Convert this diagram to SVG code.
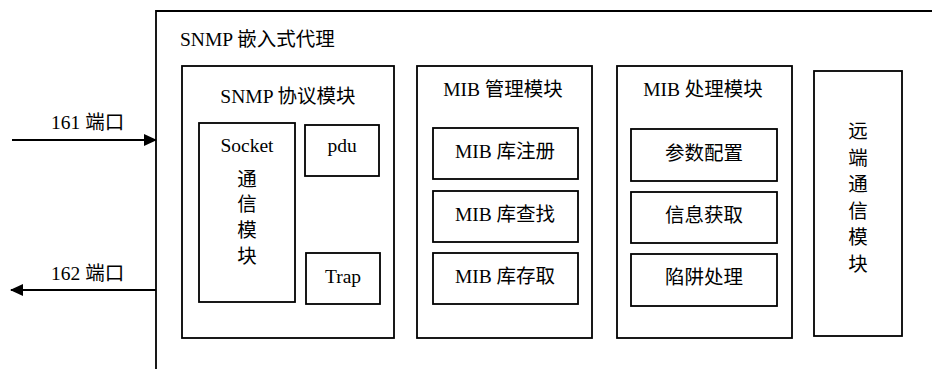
<svg xmlns="http://www.w3.org/2000/svg" width="932" height="369" viewBox="0 0 932 369">
<defs>
<style>
.box{fill:#fff;stroke:#000;stroke-width:1.8}
.ln{fill:none;stroke:#000;stroke-width:1.8}
text{font-family:"Liberation Serif","Noto Sans CJK SC",serif;fill:#000;font-size:19.5px}
.m{text-anchor:middle}
</style>
<marker id="ah" markerWidth="13" markerHeight="12" refX="12" refY="6" orient="auto" markerUnits="userSpaceOnUse">
<path d="M0,0 L13,6 L0,12 Z" fill="#000"/>
</marker>
</defs>
<rect width="932" height="369" fill="#fff"/>
<g id="agent">
<path class="ln" d="M156,369 L156,11 L932,11"/>
<text x="180" y="46">SNMP 嵌入式代理</text>
</g>
<g id="snmp-module">
<rect class="box" x="182" y="66" width="212" height="272"/>
<text class="m" x="288" y="103">SNMP 协议模块</text>
</g>
<g id="socket">
<rect class="box" x="199" y="123" width="96" height="179"/>
<text class="m" x="247" y="152">Socket</text>
<text class="m" x="247" y="186">通</text>
<text class="m" x="247" y="211">信</text>
<text class="m" x="247" y="237">模</text>
<text class="m" x="247" y="263">块</text>
</g>
<g id="pdu">
<rect class="box" x="305" y="125" width="74" height="51"/>
<text class="m" x="342" y="152">pdu</text>
</g>
<g id="trap">
<rect class="box" x="306" y="253" width="74" height="51"/>
<text class="m" x="343" y="283">Trap</text>
</g>
<g id="mib-mgmt">
<rect class="box" x="417" y="66" width="175" height="272"/>
<text class="m" x="503" y="96">MIB 管理模块</text>
</g>
<g id="mib-reg">
<rect class="box" x="433" y="128" width="145" height="51"/>
<text class="m" x="505" y="158">MIB 库注册</text>
</g>
<g id="mib-find">
<rect class="box" x="433" y="191" width="145" height="51"/>
<text class="m" x="505" y="221">MIB 库查找</text>
</g>
<g id="mib-access">
<rect class="box" x="433" y="253" width="145" height="51"/>
<text class="m" x="505" y="283">MIB 库存取</text>
</g>
<g id="mib-proc">
<rect class="box" x="617" y="66" width="175" height="272"/>
<text class="m" x="703" y="96">MIB 处理模块</text>
</g>
<g id="param">
<rect class="box" x="631" y="129" width="146" height="52"/>
<text class="m" x="704" y="160">参数配置</text>
</g>
<g id="info">
<rect class="box" x="631" y="192" width="146" height="51"/>
<text class="m" x="704" y="222">信息获取</text>
</g>
<g id="trapproc">
<rect class="box" x="631" y="254" width="146" height="52"/>
<text class="m" x="704" y="284">陷阱处理</text>
</g>
<g id="remote">
<rect class="box" x="814" y="71" width="88" height="265"/>
<text class="m" x="858" y="138">远</text>
<text class="m" x="858" y="165">端</text>
<text class="m" x="858" y="191">通</text>
<text class="m" x="858" y="218">信</text>
<text class="m" x="858" y="244">模</text>
<text class="m" x="858" y="271">块</text>
</g>
<g id="connectors">
<line class="ln" x1="12" y1="140" x2="156" y2="140" marker-end="url(#ah)"/>
<text x="51" y="129">161 端口</text>
<line class="ln" x1="156" y1="290" x2="11" y2="290" marker-end="url(#ah)"/>
<text x="51" y="280">162 端口</text>
</g>
</svg>
